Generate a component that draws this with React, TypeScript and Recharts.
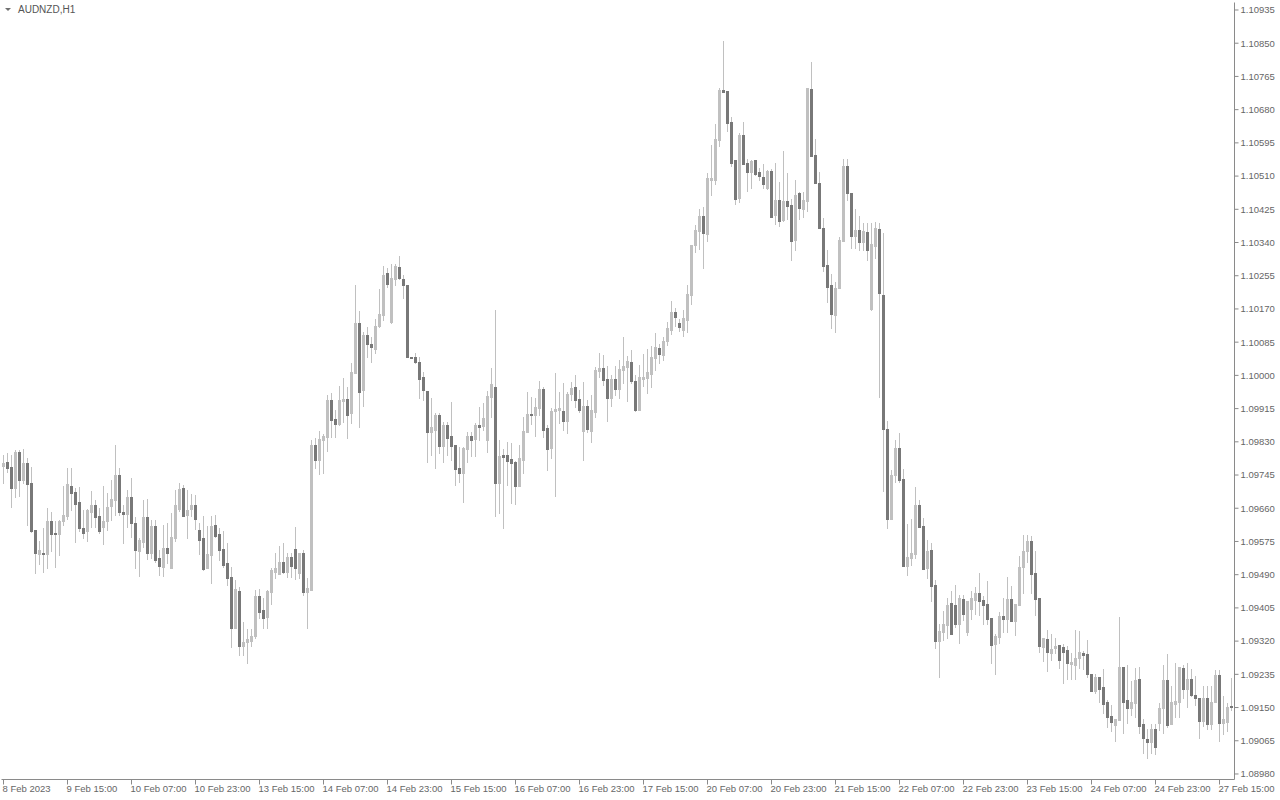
import React from 'react';
import { ComposedChart, Bar, XAxis, YAxis } from 'recharts';

const OPEN = [
1.09768,1.09778,1.09766,1.09712,1.09804,1.09732,1.09776,1.09725,1.09604,1.09543,
1.09546,1.09543,1.09627,1.09597,1.09594,1.09627,1.09640,1.09717,1.09702,1.09676,
1.09609,1.09602,1.09650,1.09668,1.09640,1.09612,1.09627,1.09666,1.09681,1.09745,
1.09650,1.09645,1.09689,1.09622,1.09551,1.09574,1.09638,1.09546,1.09615,1.09533,
1.09510,1.09558,1.09507,1.09584,1.09658,1.09712,1.09643,1.09658,1.09668,1.09604,
1.09584,1.09507,1.09540,1.09617,1.09594,1.09556,1.09520,1.09484,1.09354,1.09448,
1.09308,1.09318,1.09320,1.09333,1.09435,1.09400,1.09382,1.09446,1.09497,1.09492,
1.09522,1.09497,1.09535,1.09556,1.09494,1.09546,1.09446,1.09451,1.09822,1.09784,
1.09835,1.09842,1.09937,1.09888,1.09876,1.09934,1.09940,1.09904,1.10006,1.10134,
1.09963,1.10103,1.10080,1.10068,1.10126,1.10155,1.10262,1.10137,1.10247,1.10277,
1.10247,1.10231,1.10047,1.10047,1.10034,1.09996,1.09960,1.09855,1.09860,1.09899,
1.09819,1.09873,1.09845,1.09822,1.09763,1.09750,1.09812,1.09845,1.09837,1.09873,
1.09871,1.09835,1.09945,1.09970,1.09725,1.09796,1.09796,1.09786,1.09778,1.09717,
1.09784,1.09855,1.09901,1.09899,1.09917,1.09965,1.09865,1.09814,1.09909,1.09911,
1.09909,1.09883,1.09952,1.09970,1.09940,1.09858,1.09922,1.09858,1.09906,1.10011,
1.10019,1.09991,1.09942,1.09991,1.09965,1.10014,1.10021,1.10034,1.09986,1.09911,
1.09991,1.09993,1.10004,1.10045,1.10070,1.10052,1.10088,1.10116,1.10162,1.10134,
1.10116,1.10142,1.10206,1.10334,1.10370,1.10408,1.10362,1.10500,1.10500,1.10602,
1.10730,1.10728,1.10648,1.10551,1.10454,1.10615,1.10544,1.10521,1.10551,1.10521,
1.10508,1.10480,1.10523,1.10410,1.10449,1.10398,1.10446,1.10436,1.10346,1.10467,
1.10426,1.10446,1.10733,1.10564,1.10492,1.10377,1.10283,1.10231,1.10155,1.10224,
1.10344,1.10536,1.10467,1.10357,1.10372,1.10341,1.10367,1.10170,1.10331,1.10375,
1.10206,1.09863,1.09633,1.09745,1.09814,1.09735,1.09512,1.09533,1.09543,1.09668,
1.09615,1.09507,1.09553,1.09464,1.09320,1.09343,1.09361,1.09418,1.09412,1.09364,
1.09428,1.09343,1.09402,1.09425,1.09443,1.09425,1.09415,1.09379,1.09313,1.09331,
1.09384,1.09377,1.09428,1.09372,1.09412,1.09510,1.09551,1.09576,1.09494,1.09430,
1.09305,1.09325,1.09290,1.09302,1.09310,1.09305,1.09297,1.09261,1.09259,1.09277,
1.09290,1.09287,1.09236,1.09192,1.09228,1.09203,1.09164,1.09128,1.09105,1.09118,
1.09254,1.09169,1.09149,1.09162,1.09223,1.09108,1.09070,1.09062,1.09095,1.09110,
1.09149,1.09221,1.09108,1.09159,1.09164,1.09251,1.09197,1.09223,1.09182,1.09174,
1.09116,1.09174,1.09108,1.09164,1.09233,1.09110,1.09113,1.09154,
];

const HIGH = [
1.09796,1.09801,1.09796,1.09809,1.09809,1.09812,1.09789,1.09766,1.09604,1.09576,
1.09609,1.09661,1.09650,1.09627,1.09630,1.09717,1.09763,1.09763,1.09712,1.09714,
1.09656,1.09658,1.09704,1.09681,1.09661,1.09717,1.09699,1.09732,1.09822,1.09763,
1.09668,1.09707,1.09737,1.09638,1.09584,1.09681,1.09684,1.09630,1.09630,1.09553,
1.09617,1.09622,1.09648,1.09707,1.09725,1.09720,1.09707,1.09697,1.09694,1.09622,
1.09640,1.09615,1.09640,1.09643,1.09609,1.09602,1.09571,1.09510,1.09476,1.09459,
1.09369,1.09351,1.09351,1.09451,1.09453,1.09430,1.09451,1.09507,1.09546,1.09563,
1.09571,1.09546,1.09546,1.09612,1.09546,1.09553,1.09482,1.09835,1.09840,1.09858,
1.09850,1.09950,1.09955,1.09911,1.09973,1.09993,1.09970,1.10032,1.10231,1.10165,
1.10111,1.10124,1.10098,1.10144,1.10221,1.10280,1.10275,1.10285,1.10285,1.10306,
1.10257,1.10231,1.10048,1.10057,1.10047,1.10009,1.09960,1.09942,1.09904,1.09904,
1.09881,1.09881,1.09932,1.09822,1.09817,1.09817,1.09855,1.09855,1.09878,1.09919,
1.09929,1.09960,1.10019,1.10167,1.09835,1.09812,1.09830,1.09827,1.09781,1.09822,
1.09894,1.09958,1.09945,1.09942,1.09986,1.09970,1.09873,1.09917,1.10006,1.09958,
1.09981,1.09958,1.09983,1.10001,1.09963,1.09983,1.09937,1.09950,1.10021,1.10057,
1.10052,1.10024,1.10001,1.10024,1.10039,1.10098,1.10050,1.10065,1.10001,1.10027,
1.10055,1.10068,1.10075,1.10109,1.10080,1.10098,1.10137,1.10190,1.10172,1.10144,
1.10167,1.10231,1.10334,1.10385,1.10426,1.10431,1.10518,1.10590,1.10643,1.10735,
1.10856,1.10728,1.10661,1.10551,1.10620,1.10648,1.10554,1.10551,1.10551,1.10531,
1.10541,1.10526,1.10528,1.10544,1.10495,1.10574,1.10518,1.10451,1.10500,1.10469,
1.10469,1.10735,1.10802,1.10605,1.10521,1.10403,1.10321,1.10259,1.10239,1.10354,
1.10554,1.10554,1.10467,1.10426,1.10408,1.10390,1.10390,1.10390,1.10393,1.10390,
1.10364,1.09883,1.09758,1.09835,1.09853,1.09760,1.09620,1.09633,1.09714,1.09681,
1.09635,1.09579,1.09571,1.09476,1.09364,1.09397,1.09430,1.09448,1.09464,1.09438,
1.09438,1.09423,1.09448,1.09459,1.09494,1.09435,1.09474,1.09379,1.09338,1.09395,
1.09430,1.09484,1.09461,1.09415,1.09538,1.09592,1.09592,1.09589,1.09551,1.09430,
1.09328,1.09348,1.09338,1.09328,1.09310,1.09313,1.09308,1.09290,1.09348,1.09346,
1.09295,1.09323,1.09236,1.09236,1.09228,1.09249,1.09169,1.09157,1.09121,1.09382,
1.09254,1.09259,1.09218,1.09251,1.09254,1.09121,1.09095,1.09108,1.09108,1.09162,
1.09259,1.09287,1.09205,1.09264,1.09254,1.09259,1.09264,1.09249,1.09231,1.09174,
1.09205,1.09205,1.09205,1.09246,1.09246,1.09180,1.09162,1.09225,
];

const LOW = [
1.09725,1.09753,1.09663,1.09689,1.09691,1.09725,1.09617,1.09599,1.09494,1.09517,
1.09497,1.09507,1.09551,1.09510,1.09540,1.09617,1.09633,1.09656,1.09574,1.09602,
1.09584,1.09576,1.09612,1.09612,1.09597,1.09569,1.09604,1.09630,1.09643,1.09643,
1.09571,1.09612,1.09586,1.09507,1.09487,1.09561,1.09530,1.09533,1.09522,1.09489,
1.09487,1.09520,1.09507,1.09576,1.09653,1.09640,1.09584,1.09640,1.09607,1.09543,
1.09502,1.09507,1.09469,1.09586,1.09528,1.09510,1.09464,1.09305,1.09354,1.09285,
1.09285,1.09264,1.09308,1.09328,1.09379,1.09354,1.09354,1.09415,1.09482,1.09492,
1.09494,1.09484,1.09484,1.09479,1.09482,1.09438,1.09354,1.09451,1.09763,1.09748,
1.09750,1.09807,1.09842,1.09842,1.09873,1.09881,1.09840,1.09878,1.10006,1.09868,
1.09922,1.10047,1.10034,1.10057,1.10124,1.10142,1.10226,1.10134,1.10231,1.10247,
1.10198,1.10047,1.10045,1.10032,1.09942,1.09937,1.09778,1.09796,1.09763,1.09801,
1.09778,1.09796,1.09784,1.09720,1.09727,1.09676,1.09778,1.09794,1.09794,1.09835,
1.09860,1.09804,1.09894,1.09640,1.09648,1.09609,1.09720,1.09673,1.09671,1.09717,
1.09750,1.09855,1.09876,1.09845,1.09899,1.09842,1.09758,1.09789,1.09691,1.09878,
1.09860,1.09853,1.09937,1.09919,1.09906,1.09784,1.09855,1.09830,1.09894,1.09996,
1.09975,1.09883,1.09922,1.09950,1.09942,1.09981,1.09934,1.09981,1.09909,1.09911,
1.09973,1.09955,1.09970,1.10014,1.10032,1.10039,1.10078,1.10106,1.10126,1.10114,
1.10101,1.10111,1.10183,1.10316,1.10323,1.10275,1.10344,1.10462,1.10490,1.10587,
1.10725,1.10625,1.10536,1.10439,1.10444,1.10541,1.10472,1.10480,1.10513,1.10500,
1.10480,1.10477,1.10405,1.10387,1.10382,1.10395,1.10400,1.10295,1.10321,1.10400,
1.10405,1.10421,1.10561,1.10492,1.10377,1.10267,1.10188,1.10121,1.10111,1.10224,
1.10344,1.10449,1.10326,1.10326,1.10321,1.10321,1.10295,1.10167,1.10300,1.09945,
1.09704,1.09609,1.09633,1.09727,1.09727,1.09512,1.09489,1.09515,1.09533,1.09612,
1.09505,1.09482,1.09423,1.09302,1.09228,1.09323,1.09328,1.09338,1.09356,1.09315,
1.09374,1.09336,1.09377,1.09389,1.09387,1.09364,1.09364,1.09264,1.09236,1.09315,
1.09343,1.09343,1.09372,1.09336,1.09412,1.09443,1.09522,1.09443,1.09387,1.09292,
1.09269,1.09244,1.09272,1.09290,1.09251,1.09213,1.09223,1.09223,1.09223,1.09251,
1.09249,1.09228,1.09192,1.09187,1.09164,1.09136,1.09100,1.09090,1.09064,1.09118,
1.09085,1.09110,1.09131,1.09126,1.09085,1.09034,1.09021,1.09034,1.09031,1.09093,
1.09085,1.09100,1.09108,1.09126,1.09126,1.09174,1.09151,1.09180,1.09157,1.09072,
1.09103,1.09095,1.09095,1.09164,1.09064,1.09082,1.09090,1.09144,
];

const CLOSE = [
1.09776,1.09763,1.09712,1.09804,1.09732,1.09776,1.09722,1.09602,1.09546,1.09553,
1.09543,1.09627,1.09594,1.09594,1.09627,1.09643,1.09722,1.09699,1.09671,1.09609,
1.09597,1.09656,1.09668,1.09638,1.09602,1.09627,1.09663,1.09684,1.09745,1.09650,
1.09645,1.09689,1.09622,1.09553,1.09579,1.09638,1.09546,1.09615,1.09528,1.09512,
1.09558,1.09546,1.09586,1.09668,1.09709,1.09640,1.09656,1.09668,1.09633,1.09579,
1.09505,1.09543,1.09615,1.09589,1.09553,1.09515,1.09482,1.09354,1.09453,1.09308,
1.09318,1.09325,1.09333,1.09435,1.09395,1.09379,1.09448,1.09502,1.09507,1.09522,
1.09497,1.09535,1.09512,1.09507,1.09546,1.09446,1.09456,1.09822,1.09784,1.09837,
1.09845,1.09937,1.09886,1.09876,1.09937,1.09940,1.09899,1.10009,1.10134,1.09958,
1.10103,1.10080,1.10073,1.10126,1.10157,1.10257,1.10234,1.10249,1.10280,1.10249,
1.10231,1.10047,1.10045,1.10034,1.09991,1.09963,1.09855,1.09868,1.09899,1.09819,
1.09873,1.09840,1.09819,1.09760,1.09750,1.09814,1.09845,1.09835,1.09873,1.09868,
1.09891,1.09947,1.09978,1.09725,1.09794,1.09791,1.09781,1.09776,1.09717,1.09789,
1.09858,1.09901,1.09899,1.09919,1.09965,1.09860,1.09812,1.09909,1.09914,1.09917,
1.09883,1.09952,1.09968,1.09937,1.09911,1.09922,1.09863,1.09911,1.10014,1.10019,
1.09988,1.09942,1.09991,1.09965,1.10016,1.10024,1.10037,1.09986,1.09911,1.09996,
1.09996,1.10009,1.10047,1.10073,1.10055,1.10088,1.10121,1.10162,1.10149,1.10124,
1.10147,1.10208,1.10334,1.10372,1.10408,1.10364,1.10505,1.10505,1.10605,1.10730,
1.10725,1.10646,1.10544,1.10451,1.10615,1.10541,1.10521,1.10549,1.10515,1.10510,
1.10490,1.10523,1.10405,1.10449,1.10395,1.10446,1.10433,1.10344,1.10462,1.10428,
1.10449,1.10735,1.10561,1.10492,1.10377,1.10280,1.10226,1.10157,1.10224,1.10346,
1.10536,1.10467,1.10357,1.10372,1.10341,1.10370,1.10321,1.10336,1.10377,1.10211,
1.09863,1.09633,1.09745,1.09814,1.09732,1.09512,1.09535,1.09546,1.09668,1.09612,
1.09505,1.09551,1.09461,1.09320,1.09346,1.09364,1.09412,1.09338,1.09364,1.09430,
1.09389,1.09423,1.09430,1.09443,1.09423,1.09412,1.09377,1.09310,1.09333,1.09384,
1.09377,1.09428,1.09372,1.09415,1.09510,1.09551,1.09576,1.09492,1.09428,1.09308,
1.09328,1.09292,1.09300,1.09308,1.09272,1.09292,1.09264,1.09267,1.09277,1.09292,
1.09285,1.09236,1.09192,1.09228,1.09197,1.09159,1.09126,1.09113,1.09121,1.09254,
1.09164,1.09149,1.09164,1.09221,1.09103,1.09072,1.09062,1.09095,1.09049,1.09149,
1.09221,1.09105,1.09164,1.09167,1.09254,1.09197,1.09223,1.09182,1.09174,1.09116,
1.09174,1.09108,1.09164,1.09233,1.09110,1.09121,1.09151,1.09151,
];

const X_LABELS = [
  '8 Feb 2023', '9 Feb 15:00', '10 Feb 07:00', '10 Feb 23:00', '13 Feb 15:00',
  '14 Feb 07:00', '14 Feb 23:00', '15 Feb 15:00', '16 Feb 07:00', '16 Feb 23:00',
  '17 Feb 15:00', '20 Feb 07:00', '20 Feb 23:00', '21 Feb 15:00', '22 Feb 07:00',
  '22 Feb 23:00', '23 Feb 15:00', '24 Feb 07:00', '24 Feb 23:00', '27 Feb 15:00',
];
const BARS_PER_LABEL = 16;

const Y_TICKS = [
  1.0898, 1.09065, 1.0915, 1.09235, 1.0932, 1.09405, 1.0949, 1.09575, 1.0966, 1.09745,
  1.0983, 1.09915, 1.1, 1.10085, 1.1017, 1.10255, 1.1034, 1.10425, 1.1051, 1.10595,
  1.1068, 1.10765, 1.1085, 1.10935,
];
const Y_DOMAIN: [number, number] = [1.0896587, 1.1095419];

const TITLE = 'AUDNZD,H1';

const FONT = "'Liberation Sans', Arial, sans-serif";
const FRAME = '#8a8a8a';
const TEXT = '#666666';
const BULL = '#c0c0c0';
const BEAR = '#787878';
const WICK = '#c0c0c0';

const data = OPEN.map((o, i) => ({
  i,
  open: o,
  high: HIGH[i],
  low: LOW[i],
  close: CLOSE[i],
  range: [LOW[i], HIGH[i]],
}));

const X_TICKS = X_LABELS.map((_, j) => j * BARS_PER_LABEL);

function Candle(props: any) {
  const { x, y, width, height, payload } = props;
  if (x == null || y == null || !payload) return null;
  const top = Math.min(y, y + height);
  const h = Math.abs(height);
  const { open, high, low, close } = payload;
  const span = high - low;
  const py = (p: number) => (span > 0 ? top + ((high - p) / span) * h : top);
  const cx = Math.floor(x + width / 2);
  const yH = Math.round(py(high));
  const yL = Math.round(py(low));
  const yO = Math.round(py(open));
  const yC = Math.round(py(close));
  const bt = Math.min(yO, yC);
  const bb = Math.max(yO, yC);
  const up = close > open;
  return (
    <g>
      <rect x={cx} y={yH} width={1} height={Math.max(1, yL - yH + 1)} fill={WICK} />
      <rect x={cx - 1} y={bt} width={3} height={Math.max(1, bb - bt + 1)} fill={up ? BULL : BEAR} />
    </g>
  );
}

function XTick(props: any) {
  const { x, payload } = props;
  const label = X_LABELS[Math.round(payload.value / BARS_PER_LABEL)];
  return (
    <text x={x - 1} y={792} fontSize={9.5} fontFamily={FONT} fill={TEXT} textAnchor="start">
      {label}
    </text>
  );
}

export default function App() {
  return (
    <div style={{ position: 'absolute', left: 0, top: 0, width: 1280, height: 800, background: '#ffffff' }}>
      <ComposedChart
        width={1280}
        height={800}
        data={data}
        margin={{ top: 2.5, right: 0, bottom: 0, left: 1.5 }}
        barCategoryGap="10%"
      >
        <XAxis
          xAxisId="x"
          dataKey="i"
          type="category"
          ticks={X_TICKS}
          interval={0}
          height={20.5}
          padding={{ left: 0, right: 1 }}
          tickSize={5}
          tickLine={{ stroke: FRAME }}
          axisLine={{ stroke: FRAME }}
          tick={<XTick />}
        />
        <XAxis
          xAxisId="t"
          dataKey="i"
          type="category"
          orientation="top"
          height={0}
          tick={false}
          tickLine={false}
          axisLine={{ stroke: FRAME }}
        />
        <YAxis
          yAxisId="p"
          orientation="right"
          type="number"
          domain={Y_DOMAIN}
          ticks={Y_TICKS}
          interval={0}
          allowDataOverflow
          width={45.5}
          tickSize={4}
          tickMargin={2}
          tickLine={{ stroke: FRAME }}
          axisLine={{ stroke: FRAME }}
          tick={{ fontSize: 9.5, fill: TEXT, fontFamily: FONT }}
          tickFormatter={(v: number) => v.toFixed(5)}
        />
        <YAxis
          yAxisId="l"
          orientation="left"
          width={0}
          domain={[0, 1]}
          tick={false}
          tickLine={false}
          axisLine={{ stroke: FRAME }}
        />
        <Bar
          xAxisId="x"
          yAxisId="p"
          dataKey="range"
          shape={Candle}
          isAnimationActive={false}
        />
      </ComposedChart>
      <svg style={{ position: 'absolute', left: 0, top: 0 }} width={14} height={16}>
        <polygon points="5,8 11,8 8,11" fill="#707070" />
      </svg>
      <div
        style={{
          position: 'absolute',
          left: 18,
          top: 4,
          fontSize: 10,
          lineHeight: '12px',
          fontFamily: FONT,
          color: '#555555',
          whiteSpace: 'nowrap',
        }}
      >
        {TITLE}
      </div>
    </div>
  );
}
